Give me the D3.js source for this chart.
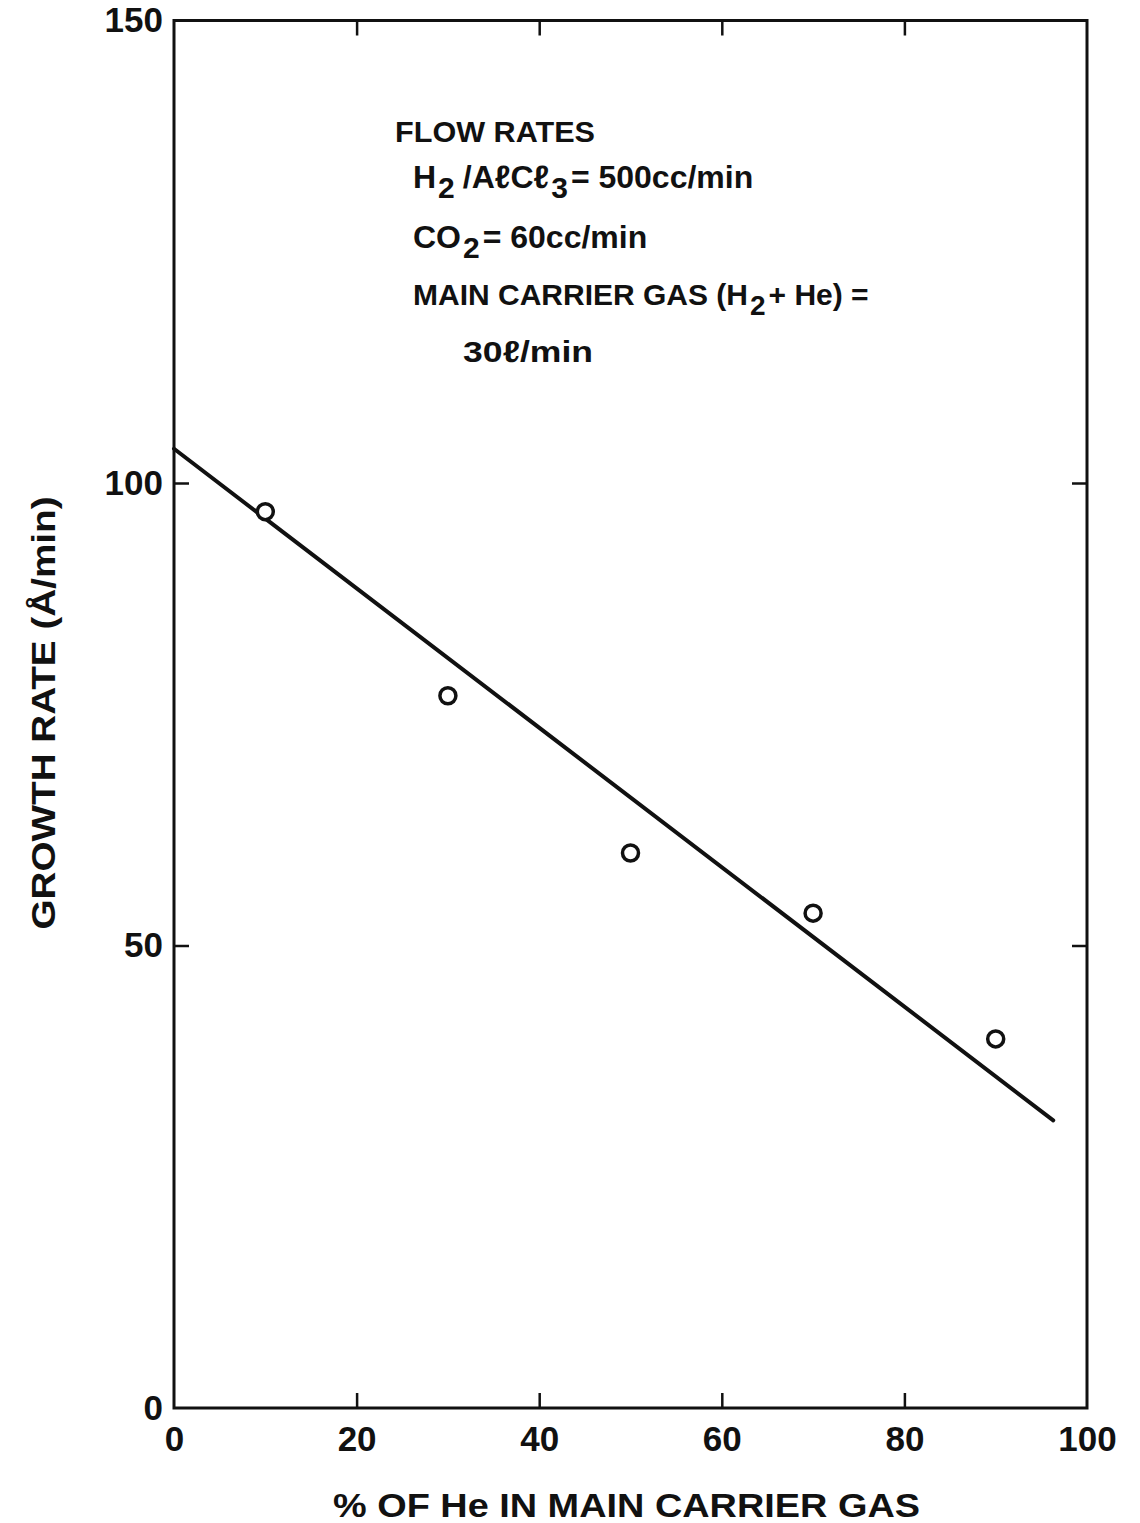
<!DOCTYPE html>
<html>
<head>
    <script src="https://cdn.jsdelivr.net/npm/d3@7"></script>
    <style>
        body { margin: 0; background: #fff; }
        text { font-family: "Liberation Sans", Arial, sans-serif; font-weight: bold; fill: #111; }
    </style>
</head>
<body>
<svg width="1140" height="1523"></svg>
<script type="text/javascript">
// chart values
var xTicks = [0, 20, 40, 60, 80, 100];
var yTicks = [0, 50, 100, 150];
var pctHe = [10, 30, 50, 70, 90];
var growthRate = [96.9, 77.0, 60.0, 53.5, 39.9];
// hand drawn fit line, end points
var fitX = [0, 96.3];
var fitY = [103.7, 31.1];

var svg = d3.select('svg');
var x = d3.scaleLinear().domain([0, 100]).range([174, 1087]);
var y = d3.scaleLinear().domain([0, 150]).range([1408, 20.5]);
var ink = '#111';

// frame
svg.append('rect')
    .attr('x', x(0)).attr('y', y(150))
    .attr('width', x(100) - x(0)).attr('height', y(0) - y(150))
    .attr('fill', 'none').attr('stroke', ink).attr('stroke-width', 3);

function styleAxis(g, hideEnds) {
    g.select('.domain').remove();
    g.selectAll('.tick line').attr('stroke', ink).attr('stroke-width', 2.5);
    if (hideEnds) {
        g.selectAll('.tick').filter(function(d) { return hideEnds.indexOf(d) >= 0; })
            .select('line').remove();
    }
    g.attr('font-family', null).attr('font-size', 35);
    g.selectAll('text').attr('fill', ink);
}

// bottom axis with labels
svg.append('g').attr('transform', 'translate(0,' + y(0) + ')')
    .call(d3.axisBottom(x).tickValues(xTicks).tickSizeInner(-15).tickSizeOuter(0).tickPadding(18))
    .call(styleAxis, [0, 100]);
// left axis with labels
svg.append('g').attr('transform', 'translate(' + x(0) + ',0)')
    .call(d3.axisLeft(y).tickValues(yTicks).tickSizeInner(-15).tickSizeOuter(0).tickPadding(11))
    .call(styleAxis, [0, 150]);
// top and right ticks only
svg.append('g').attr('transform', 'translate(0,' + y(150) + ')')
    .call(d3.axisTop(x).tickValues(xTicks.slice(1, -1)).tickSizeInner(-15).tickSizeOuter(0).tickFormat(''))
    .call(styleAxis);
svg.append('g').attr('transform', 'translate(' + x(100) + ',0)')
    .call(d3.axisRight(y).tickValues(yTicks.slice(1, -1)).tickSizeInner(-15).tickSizeOuter(0).tickFormat(''))
    .call(styleAxis);

// axis titles
svg.append('text')
    .attr('x', 333).attr('y', 1517)
    .attr('font-size', 34)
    .attr('textLength', 587).attr('lengthAdjust', 'spacingAndGlyphs')
    .text('% OF He IN MAIN CARRIER GAS');
svg.append('text')
    .attr('transform', 'translate(55,713) rotate(-90)')
    .attr('text-anchor', 'middle')
    .attr('font-size', 34)
    .attr('textLength', 433).attr('lengthAdjust', 'spacingAndGlyphs')
    .text('GROWTH RATE (Å/min)');

// fit line
var line = d3.line().x(function(d) { return x(d[0]); }).y(function(d) { return y(d[1]); });
svg.append('path')
    .datum(d3.zip(fitX, fitY))
    .attr('d', line)
    .attr('fill', 'none').attr('stroke', ink).attr('stroke-width', 4).attr('stroke-linecap', 'round');

// data points
svg.selectAll('circle.pt').data(d3.zip(pctHe, growthRate))
    .enter().append('circle')
    .attr('class', 'pt')
    .attr('cx', function(d) { return x(d[0]); })
    .attr('cy', function(d) { return y(d[1]); })
    .attr('r', 8)
    .attr('fill', '#fff').attr('stroke', ink).attr('stroke-width', 3.5);

// flow rate notes, subscripts drop by 10px
function note(xp, yp, size, parts) {
    var t = svg.append('text').attr('x', xp).attr('y', yp).attr('font-size', size);
    parts.forEach(function(p) {
        var s = t.append('tspan').attr('dy', p[1] || 0).text(p[0]);
        if (p[1] > 0) s.attr('dx', 2).attr('font-size', size - 2);
        if (p[1] < 0) s.attr('dx', p[2] || 3);
    });
    return t;
}
note(395, 142, 30, [['FLOW RATES']]).attr('textLength', 200).attr('lengthAdjust', 'spacingAndGlyphs');
note(413, 188, 32, [['H'], ['2', 10], ['/AℓCℓ', -10, 8], ['3', 10], ['= 500cc/min', -10]]);
note(413, 248, 32, [['CO'], ['2', 10], ['= 60cc/min', -10]]);
note(413, 305, 30, [['MAIN  CARRIER GAS (H'], ['2', 10], ['+ He) =', -10]]);
note(463, 362, 30, [['30ℓ/min']]).attr('textLength', 130).attr('lengthAdjust', 'spacingAndGlyphs');
</script>
</body>
</html>
